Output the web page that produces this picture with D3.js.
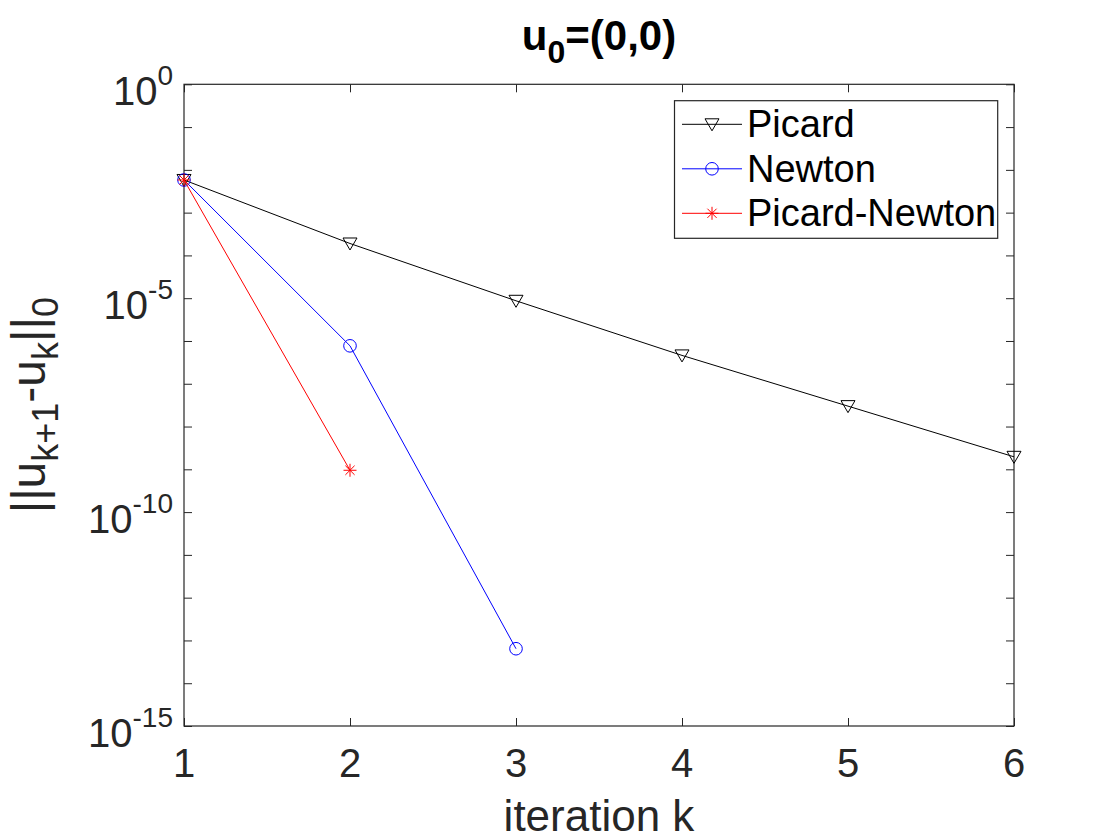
<html>
<head>
<title>u0=(0,0) convergence</title>
<script src="https://d3js.org/d3.v7.min.js" charset="utf-8"></script>
<style>
  body { margin: 0; background: white; font-family: "Liberation Sans", Arial, Helvetica, sans-serif; }
  text { fill: #262626; }
</style>
</head>
<body>
<script>
// iteration numbers and the step norms
var iterations = [1, 2, 3, 4, 5, 6];
var picard = [5.8e-3, 1.9e-4, 8.7e-6, 4.6e-7, 3.0e-8, 1.96e-9];
var newton = [5.8e-3, 7.7e-7, 6.4e-14];
var picardNewton = [5.8e-3, 9.5e-10];

var names = ["Picard", "Newton", "Picard-Newton"];
var colors = ["#000000", "#0000ff", "#ff0000"];
var markers = ["triangle", "circle", "star"];

var yTickExps = [0, -5, -10, -15];

var width = 1120, height = 840;
// plot box edges (note: "top" is taken by window.top, so use other names)
var pLeft = 184, pRight = 1014, pTop = 84.3, pBottom = 726;

var svg = d3.select("body").append("svg")
  .attr("width", width).attr("height", height);

var x = d3.scaleLinear().domain([1, 6]).range([pLeft, pRight]);
var y = d3.scaleLog().domain([1e-15, 1]).range([pBottom, pTop]);

// decade ticks, every one of them, pointing inwards on all sides
var decades = d3.range(-15, 1).map(function(e) { return Math.pow(10, e); });

svg.append("g").attr("transform", "translate(" + pLeft + ",0)")
  .call(d3.axisRight(y).tickValues(decades).tickSize(8).tickFormat(""));
svg.append("g").attr("transform", "translate(" + pRight + ",0)")
  .call(d3.axisLeft(y).tickValues(decades).tickSize(8).tickFormat(""));
svg.append("g").attr("transform", "translate(0," + pBottom + ")")
  .call(d3.axisTop(x).tickValues(iterations).tickSize(8).tickFormat(""));
svg.append("g").attr("transform", "translate(0," + pTop + ")")
  .call(d3.axisBottom(x).tickValues(iterations).tickSize(8).tickFormat(""));
svg.selectAll(".domain").remove();
svg.selectAll(".tick line").attr("stroke", "#262626").attr("stroke-width", 1);

svg.append("rect")
  .attr("x", pLeft).attr("y", pTop)
  .attr("width", pRight - pLeft).attr("height", pBottom - pTop)
  .attr("fill", "none").attr("stroke", "#262626").attr("stroke-width", 1.2);

// x tick labels
svg.selectAll(".xlab").data(iterations).enter().append("text")
  .attr("x", function(d) { return x(d); })
  .attr("y", pBottom + 51)
  .attr("text-anchor", "middle")
  .attr("font-size", 40)
  .text(function(d) { return d; });

// y tick labels 10^e
var ylab = svg.selectAll(".ylab").data(yTickExps).enter().append("text")
  .attr("x", 173)
  .attr("y", function(d) { return y(Math.pow(10, d)) + 21; })
  .attr("text-anchor", "end")
  .attr("font-size", 40);
ylab.append("tspan").text("10");
ylab.append("tspan").attr("dy", -20).attr("font-size", 28)
  .text(function(d) { return d === 0 ? "0" : "-" + (-d); });

// title
var title = svg.append("text")
  .attr("x", (pLeft + pRight) / 2).attr("y", 50)
  .attr("text-anchor", "middle")
  .attr("font-size", 42).attr("font-weight", "bold")
  .style("fill", "#000");
title.append("tspan").text("u");
title.append("tspan").attr("dy", 13).attr("font-size", 32).text("0");
title.append("tspan").attr("dy", -13).text("=(0,0)");

// x label
svg.append("text")
  .attr("x", (pLeft + pRight) / 2).attr("y", 831)
  .attr("text-anchor", "middle")
  .attr("font-size", 44)
  .text("iteration k");

// y label
var yl = svg.append("text")
  .attr("transform", "translate(45," + ((pTop + pBottom) / 2) + ") rotate(-90)")
  .attr("text-anchor", "middle")
  .attr("font-size", 48);
yl.append("tspan").text("||u");
yl.append("tspan").attr("dy", 13).attr("font-size", 36).text("k+1");
yl.append("tspan").attr("dy", -13).text("-u");
yl.append("tspan").attr("dy", 13).attr("font-size", 36).text("k");
yl.append("tspan").attr("dy", -13).text("||");
yl.append("tspan").attr("dy", 13).attr("font-size", 36).text("0");

function drawMarker(g, kind, color, cx, cy) {
  if (kind === "triangle") {
    g.append("path")
      .attr("d", "M" + (cx - 7) + "," + (cy - 5.5) + "L" + (cx + 7) + "," + (cy - 5.5) + "L" + cx + "," + (cy + 6.5) + "Z")
      .attr("fill", "none").attr("stroke", color).attr("stroke-width", 1);
  } else if (kind === "circle") {
    g.append("circle").attr("cx", cx).attr("cy", cy).attr("r", 6.3)
      .attr("fill", "none").attr("stroke", color).attr("stroke-width", 1);
  } else {
    var r = 6.5, d = 4.6;
    g.append("path")
      .attr("d", "M" + cx + "," + (cy - r) + "V" + (cy + r) +
        "M" + (cx - r) + "," + cy + "H" + (cx + r) +
        "M" + (cx - d) + "," + (cy - d) + "L" + (cx + d) + "," + (cy + d) +
        "M" + (cx - d) + "," + (cy + d) + "L" + (cx + d) + "," + (cy - d))
      .attr("fill", "none").attr("stroke", color).attr("stroke-width", 1);
  }
}

var series = [picard, newton, picardNewton];
var line = d3.line()
  .x(function(d, i) { return x(iterations[i]); })
  .y(function(d) { return y(d); });

series.forEach(function(vals, s) {
  var g = svg.append("g");
  g.append("path").datum(vals)
    .attr("d", line)
    .attr("fill", "none").attr("stroke", colors[s]).attr("stroke-width", 1);
  vals.forEach(function(v, i) {
    drawMarker(g, markers[s], colors[s], x(iterations[i]), y(v));
  });
});

// legend
var lg = svg.append("g");
lg.append("rect")
  .attr("x", 674.5).attr("y", 100.7).attr("width", 323.2).attr("height", 137.6)
  .attr("fill", "white").attr("stroke", "#262626").attr("stroke-width", 1.2);
names.forEach(function(n, i) {
  var ry = 124.3 + i * 44.5;
  lg.append("line").attr("x1", 682).attr("x2", 742).attr("y1", ry).attr("y2", ry)
    .attr("stroke", colors[i]).attr("stroke-width", 1);
  drawMarker(lg, markers[i], colors[i], 712, ry);
  lg.append("text").attr("x", 747).attr("y", ry + 13)
    .attr("font-size", 38).style("fill", "#000").text(n);
});
</script>
</body>
</html>
